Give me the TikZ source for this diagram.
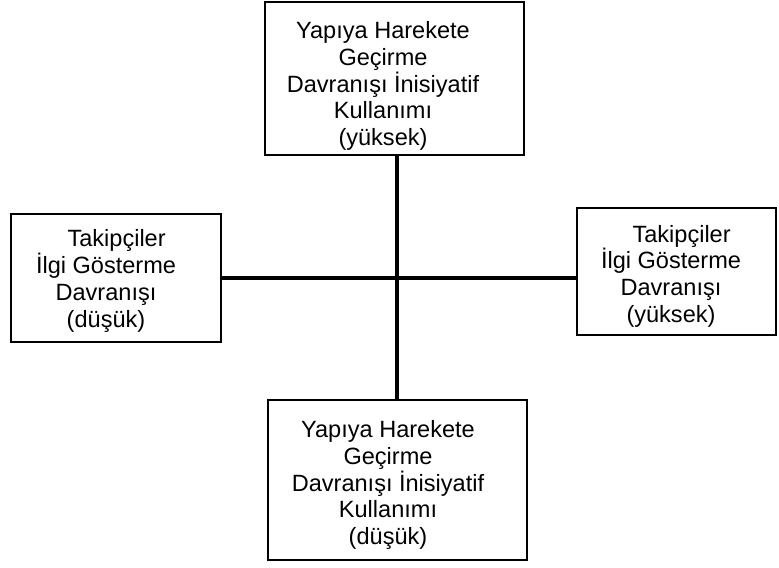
\documentclass[tikz,border=0pt]{standalone}
\usepackage{fontspec}
\setmainfont{Liberation Sans}
\usetikzlibrary{calc}

\begin{document}
\begin{tikzpicture}[x=0.02cm, y=-0.02cm,
    kutu/.style={draw, line width=1.1pt, minimum width=#1, inner sep=0pt},
    yazi/.style={align=center, font=\fontsize{13.4}{15.2}\selectfont, inner sep=0pt},
    eksen/.style={line width=2pt}]
  \useasboundingbox (0,0) rectangle (779,568);
  % kutular
  \node[kutu=5.18cm, minimum height=3.06cm] (n1) at (394.5,78.5) {};
  \node[kutu=4.20cm, minimum height=2.56cm] (n2) at (116,278) {};
  \node[kutu=3.98cm, minimum height=2.54cm] (n3) at (676.5,271.5) {};
  \node[kutu=5.18cm, minimum height=3.20cm] (n4) at (397.5,480) {};
  % yazilar
  \node[yazi] (t1) at (383,86) {Yapıya Harekete\\Geçirme\\Davranışı İnisiyatif\\Kullanımı\\(yüksek)};
  \node[yazi] (t2) at (106,281) {\hspace*{0.9em}Takipçiler\\İlgi Gösterme\\Davranışı\\(düşük)};
  \node[yazi] (t3) at (671,276) {\hspace*{0.9em}Takipçiler\\İlgi Gösterme\\Davranışı\\(yüksek)};
  \node[yazi] (t4) at (388,485) {Yapıya Harekete\\Geçirme\\Davranışı İnisiyatif\\Kullanımı\\(düşük)};
  % eksenler
  \draw[eksen] (n1.south -| 397,0) -- (n4.north -| 397,0);
  \draw[eksen] (n2.east) -- (n2.east -| n3.west);
\end{tikzpicture}
\end{document}
